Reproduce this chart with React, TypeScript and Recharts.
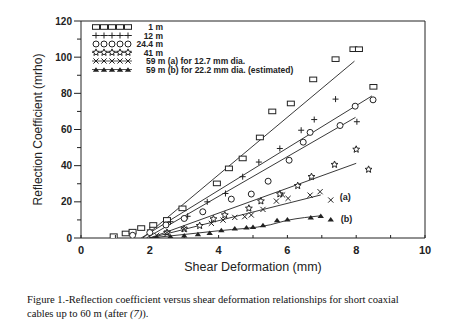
import React from 'react';
import {
  ComposedChart, Scatter, Line, XAxis, YAxis, ReferenceLine, ReferenceDot, Legend,
} from 'recharts';

const INK = '#222';
const SANS = '"Liberation Sans", Arial, sans-serif';

type Pt = { x: number; y: number };

const pts1m: Pt[] = [
  { x: 0.95, y: 1 }, { x: 1.3, y: 2.5 }, { x: 1.5, y: 3.5 }, { x: 1.75, y: 5.5 },
  { x: 2.1, y: 7.2 }, { x: 2.5, y: 10 }, { x: 2.95, y: 16.4 }, { x: 3.95, y: 30.2 },
  { x: 4.3, y: 38.5 }, { x: 4.7, y: 44 }, { x: 5.2, y: 55.6 }, { x: 5.56, y: 70 },
  { x: 6.1, y: 74.4 }, { x: 6.75, y: 87.7 }, { x: 7.4, y: 98.9 }, { x: 7.92, y: 104.4 },
  { x: 8.08, y: 104.4 }, { x: 8.5, y: 83.6 },
];
const pts12m: Pt[] = [
  { x: 1.5, y: 1.5 }, { x: 2.0, y: 4.5 }, { x: 2.6, y: 9 }, { x: 3.1, y: 12 },
  { x: 3.67, y: 20 }, { x: 4.2, y: 24.6 }, { x: 4.7, y: 33.9 }, { x: 5.17, y: 42 },
  { x: 5.78, y: 49.5 }, { x: 6.4, y: 59.6 }, { x: 6.78, y: 65.5 }, { x: 7.4, y: 76.8 },
  { x: 8.02, y: 64.3 },
];
const pts24m: Pt[] = [
  { x: 1.5, y: 1.5 }, { x: 2.0, y: 3 }, { x: 2.47, y: 7.2 }, { x: 3.0, y: 10.8 },
  { x: 3.54, y: 14.5 }, { x: 4.37, y: 21.5 }, { x: 4.95, y: 24.3 }, { x: 5.44, y: 31.4 },
  { x: 6.05, y: 43 }, { x: 6.46, y: 53 }, { x: 6.66, y: 58.4 }, { x: 7.53, y: 62.2 },
  { x: 7.97, y: 72.9 }, { x: 8.49, y: 76.4 },
];
const pts41m: Pt[] = [
  { x: 2.5, y: 3 }, { x: 3.0, y: 5 }, { x: 3.45, y: 6.8 }, { x: 3.85, y: 10.5 },
  { x: 4.18, y: 12.7 }, { x: 4.88, y: 16.4 }, { x: 5.23, y: 20.4 }, { x: 5.78, y: 24.3 },
  { x: 6.3, y: 28.9 }, { x: 6.7, y: 33.9 }, { x: 7.37, y: 40.6 }, { x: 8.0, y: 49 },
  { x: 8.36, y: 37.9 },
];
const pts59a: Pt[] = [
  { x: 2.2, y: 1.5 }, { x: 2.5, y: 3 }, { x: 3.0, y: 5 }, { x: 3.79, y: 8.1 },
  { x: 4.13, y: 9.9 }, { x: 4.47, y: 11.4 }, { x: 4.76, y: 11.8 }, { x: 4.95, y: 12.7 },
  { x: 5.29, y: 15.8 }, { x: 5.68, y: 20.4 }, { x: 5.86, y: 23.8 }, { x: 6.02, y: 21.9 },
  { x: 6.66, y: 23.7 }, { x: 6.95, y: 25.6 }, { x: 7.26, y: 21 },
];
const pts59b: Pt[] = [
  { x: 2.2, y: 0.5 }, { x: 2.6, y: 1 }, { x: 3.0, y: 1.5 }, { x: 3.4, y: 2.2 },
  { x: 3.74, y: 2.9 }, { x: 4.08, y: 4.4 }, { x: 4.47, y: 5.3 }, { x: 4.81, y: 5.9 },
  { x: 5.0, y: 6.2 }, { x: 5.29, y: 7.2 }, { x: 5.7, y: 9.9 }, { x: 6.0, y: 10.4 },
  { x: 6.68, y: 11.4 }, { x: 6.97, y: 12.3 }, { x: 7.26, y: 10.3 },
];

// fitted relationships drawn through the points
const fit1m: Pt[] = [{ x: 1.8, y: 0 }, { x: 7.95, y: 97.8 }];
const fit12m: Pt[] = [{ x: 1.75, y: 0 }, { x: 8.46, y: 78.6 }];
const fit24m: Pt[] = [{ x: 1.9, y: 0 }, { x: 7.98, y: 66.7 }];
const fit41m: Pt[] = [{ x: 2.0, y: 0 }, { x: 8.0, y: 41.3 }];
const fit59a: Pt[] = [{ x: 2.0, y: 0 }, { x: 6.97, y: 23.8 }];
const fit59b: Pt[] = [
  { x: 2.0, y: 0 }, { x: 4.0, y: 4 }, { x: 5.5, y: 7.3 }, { x: 6.0, y: 9.8 },
  { x: 6.5, y: 11.3 }, { x: 6.97, y: 12.3 },
];

const xTicks = [0, 1, 2, 3, 4, 5, 6, 7, 8, 9, 10];
const yTicks = [0, 10, 20, 30, 40, 50, 60, 70, 80, 90, 100, 110, 120];

const legendRows = [
  { kind: 'square', label: '1 m' },
  { kind: 'plus', label: '12 m' },
  { kind: 'circle', label: '24.4 m' },
  { kind: 'star', label: '41 m' },
  { kind: 'cross', label: '59 m (a) for 12.7 mm dia.' },
  { kind: 'triangle', label: '59 m (b) for 22.2 mm dia. (estimated)' },
];

function starPath(cx: number, cy: number, r: number) {
  let d = '';
  for (let i = 0; i < 10; i++) {
    const rr = i % 2 === 0 ? r : r * 0.45;
    const a = -Math.PI / 2 + (i * Math.PI) / 5;
    d += (i === 0 ? 'M' : 'L') + (cx + rr * Math.cos(a)).toFixed(2) + ',' + (cy + rr * Math.sin(a)).toFixed(2);
  }
  return d + 'Z';
}

function Marker({ kind, cx, cy }: { kind: string; cx: number; cy: number }) {
  switch (kind) {
    case 'square':
      return <rect x={cx - 3.5} y={cy - 2.3} width={7} height={4.6} fill="#fff" stroke={INK} strokeWidth={1} />;
    case 'plus':
      return (
        <g stroke={INK} strokeWidth={1}>
          <line x1={cx - 3} x2={cx + 3} y1={cy} y2={cy} />
          <line x1={cx} x2={cx} y1={cy - 3} y2={cy + 3} />
        </g>
      );
    case 'circle':
      return <circle cx={cx} cy={cy} r={3} fill="#fff" stroke={INK} strokeWidth={1} />;
    case 'star':
      return <path d={starPath(cx, cy, 3.6)} fill="#fff" stroke={INK} strokeWidth={1} />;
    case 'cross':
      return (
        <g stroke={INK} strokeWidth={1}>
          <line x1={cx - 2.6} x2={cx + 2.6} y1={cy - 2.6} y2={cy + 2.6} />
          <line x1={cx - 2.6} x2={cx + 2.6} y1={cy + 2.6} y2={cy - 2.6} />
        </g>
      );
    default:
      return <path d={`M${cx - 3.2},${cy + 2.2}L${cx},${cy - 2.3}L${cx + 3.2},${cy + 2.2}Z`} fill={INK} />;
  }
}

const shape = (kind: string) => (p: any) => <Marker kind={kind} cx={p.cx} cy={p.cy} />;

function YTick({ x, y, payload }: any) {
  const major = payload.value % 20 === 0;
  return (
    <g>
      <line x1={x} x2={x - (major ? 7 : 4)} y1={y} y2={y} stroke={INK} />
      {major && (
        <text x={x - 9} y={y} dy={3.5} textAnchor="end" fontSize={10} fontWeight="bold" fill={INK} fontFamily={SANS}>
          {payload.value}
        </text>
      )}
    </g>
  );
}

function XTick({ x, y, payload }: any) {
  const major = payload.value % 2 === 0;
  return (
    <g>
      <line x1={x} x2={x} y1={y} y2={y - 3} stroke={INK} />
      {major && (
        <text x={x} y={y + 16} textAnchor="middle" fontSize={11} fontWeight="bold" fill={INK} fontFamily={SANS}>
          {payload.value}
        </text>
      )}
    </g>
  );
}

function LegendBox() {
  return (
    <svg width={160} height={52} style={{ display: 'block', overflow: 'visible' }}>
      {legendRows.map((r, i) => {
        const cy = 5 + i * 8.5;
        const left = r.label.startsWith('59');
        return (
          <g key={r.label}>
            {r.kind !== 'square' && r.kind !== 'circle' && (
              <line x1={0} x2={40} y1={cy} y2={cy} stroke={INK} strokeWidth={0.8} />
            )}
            {[0, 1, 2, 3, 4].map((k) => (
              <Marker key={k} kind={r.kind} cx={4 + k * 8} cy={cy} />
            ))}
            <text
              x={left ? 54 : 71}
              y={cy}
              dy={3}
              textAnchor={left ? 'start' : 'end'}
              fontSize={8.5}
              fontWeight="bold"
              fill={INK}
              fontFamily={SANS}
            >
              {r.label}
            </text>
          </g>
        );
      })}
    </svg>
  );
}

const noteLabel = (text: string) => ({
  value: text,
  position: 'center' as const,
  fontSize: 9,
  fontWeight: 'bold',
  fill: INK,
  fontFamily: SANS,
});

export default function App() {
  return (
    <div style={{ position: 'absolute', left: 0, top: 0, width: 463, height: 333, background: '#fff' }}>
      <ComposedChart width={463} height={275} margin={{ top: 21, right: 38, left: 0, bottom: 0 }}>
        <XAxis
          type="number"
          dataKey="x"
          domain={[0, 10]}
          ticks={xTicks}
          interval={0}
          height={37}
          tickSize={0}
          tickMargin={0}
          tick={<XTick />}
          stroke={INK}
          allowDataOverflow
          label={{ value: 'Shear Deformation (mm)', position: 'insideBottom', offset: 4, fontSize: 12.5, fill: INK, fontFamily: SANS }}
        />
        <YAxis
          type="number"
          dataKey="y"
          domain={[0, 120]}
          ticks={yTicks}
          interval={0}
          width={81}
          tickSize={0}
          tickMargin={0}
          tick={<YTick />}
          stroke={INK}
          allowDataOverflow
          label={{ value: 'Reflection Coefficient (mrho)', angle: -90, position: 'center', dx: -3, fontSize: 12, fill: INK, fontFamily: SANS }}
        />
        <ReferenceLine y={120} stroke={INK} />
        <ReferenceLine x={10} stroke={INK} />

        <Line data={fit1m} dataKey="y" type="linear" stroke={INK} strokeWidth={0.9} dot={false} isAnimationActive={false} legendType="none" />
        <Line data={fit12m} dataKey="y" type="linear" stroke={INK} strokeWidth={0.9} dot={false} isAnimationActive={false} legendType="none" />
        <Line data={fit24m} dataKey="y" type="linear" stroke={INK} strokeWidth={0.9} dot={false} isAnimationActive={false} legendType="none" />
        <Line data={fit41m} dataKey="y" type="linear" stroke={INK} strokeWidth={0.9} dot={false} isAnimationActive={false} legendType="none" />
        <Line data={fit59a} dataKey="y" type="linear" stroke={INK} strokeWidth={0.9} dot={false} isAnimationActive={false} legendType="none" />
        <Line data={fit59b} dataKey="y" type="monotone" stroke={INK} strokeWidth={0.9} dot={false} isAnimationActive={false} legendType="none" />

        <Scatter name="1 m" data={pts1m} shape={shape('square')} isAnimationActive={false} />
        <Scatter name="12 m" data={pts12m} shape={shape('plus')} isAnimationActive={false} />
        <Scatter name="24.4 m" data={pts24m} shape={shape('circle')} isAnimationActive={false} />
        <Scatter name="41 m" data={pts41m} shape={shape('star')} isAnimationActive={false} />
        <Scatter name="59 m (a)" data={pts59a} shape={shape('cross')} isAnimationActive={false} />
        <Scatter name="59 m (b)" data={pts59b} shape={shape('triangle')} isAnimationActive={false} />

        <ReferenceDot x={7.68} y={22.7} r={0} stroke="none" label={noteLabel('(a)')} />
        <ReferenceDot x={7.72} y={10.5} r={0} stroke="none" label={noteLabel('(b)')} />

        <Legend
          layout="vertical"
          align="center"
          verticalAlign="middle"
          content={() => <LegendBox />}
          wrapperStyle={{ position: 'absolute', left: 92, top: 22, width: 160, height: 52 }}
        />
      </ComposedChart>
      <div
        style={{
          position: 'absolute',
          left: 27,
          top: 293,
          width: 430,
          fontFamily: '"Liberation Serif", "Times New Roman", serif',
          fontSize: 10.6,
          lineHeight: '14px',
          color: '#111',
        }}
      >
        Figure 1.-Reflection coefficient versus shear deformation relationships for short coaxial
        <br />
        cables up to 60 m (after <i>(7)</i>).
      </div>
    </div>
  );
}
